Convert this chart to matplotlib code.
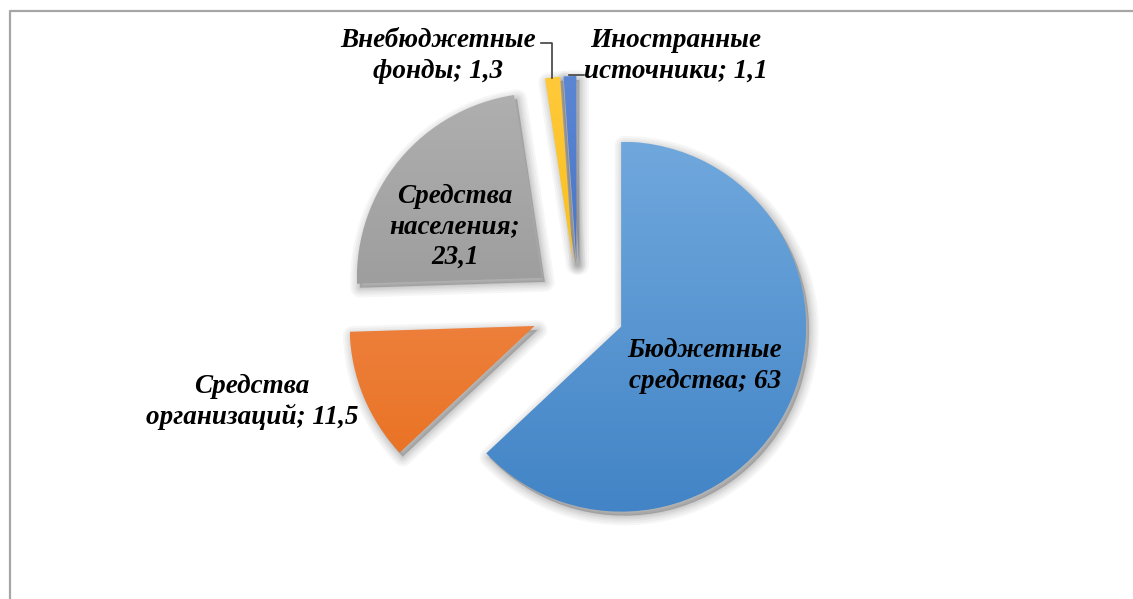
import numpy as np
import matplotlib
matplotlib.use("Agg")
import matplotlib.pyplot as plt
from matplotlib.patches import Wedge
from matplotlib.colors import LinearSegmentedColormap

# Структура источников финансирования, %
sources = ["Бюджетные\nсредства", "Средства\nорганизаций", "Средства\nнаселения",
           "Внебюджетные\nфонды", "Иностранные\nисточники"]
shares = [63, 11.5, 23.1, 1.3, 1.1]
# разделитель между названием и значением в подписи
label_sep = ["; ", "; ", ";\n", "; ", "; "]

# цвет сверху / снизу для градиента каждого сектора
top_colors = ["#70a8dd", "#f2915a", "#afafaf", "#ffc93a", "#5a86d4"]
bottom_colors = ["#4284c6", "#e86e1c", "#8e8e8e", "#f5b800", "#3b66bb"]

W, H = 1133, 599
CX, CY, R = 578, H - 308, 185
EXPLODE = 47  # в matplotlib explode задаётся в единицах данных

fig = plt.figure(figsize=(W / 100, H / 100), dpi=100)
ax = fig.add_axes([0, 0, 1, 1])

# рамка области диаграммы (видны только верх и левый край)
ax.plot([9.5, 9.5, W], [0, H - 10.5, H - 10.5], color="#a6a6a6", lw=1.6,
        solid_capstyle="butt", zorder=1)

wedges, _ = ax.pie(shares, startangle=90, counterclock=False, center=(CX, CY),
                   radius=R, explode=[EXPLODE] * len(shares), frame=True)

for i, w in enumerate(wedges):
    w.set_facecolor("none")
    w.set_edgecolor("none")
    cx, cy = w.center
    # мягкая размытая тень справа снизу
    for lw in [14, 11, 8, 5.5, 3.5, 1.5]:
        sh = Wedge((cx + 3, cy - 4), w.r, w.theta1, w.theta2,
                   facecolor="#000000", edgecolor="#000000", lw=lw,
                   alpha=0.035, zorder=2, joinstyle="round")
        ax.add_patch(sh)
    # вертикальный градиент внутри сектора
    clip = Wedge((cx, cy), w.r, w.theta1, w.theta2, facecolor="none",
                 edgecolor="none", transform=ax.transData)
    ax.add_patch(clip)
    x0, y0, x1, y1 = cx - w.r, cy - w.r, cx + w.r, cy + w.r
    cmap = LinearSegmentedColormap.from_list(f"g{i}", [bottom_colors[i], top_colors[i]])
    grad = np.linspace(0, 1, 256).reshape(-1, 1)
    im = ax.imshow(grad, cmap=cmap, extent=(x0, x1, y0, y1), origin="lower",
                   aspect="auto", zorder=3, interpolation="bilinear")
    im.set_clip_path(clip)

ax.set_xlim(0, W)
ax.set_ylim(0, H)
ax.set_aspect("equal")
ax.axis("off")

font = dict(family="Liberation Serif", weight="bold", style="italic",
            size=19.5, color="#000000", ha="center", va="center",
            linespacing=1.27, zorder=5)

label_pos = [(705, H - 366), (252, H - 402), (455, H - 227),
             (438, H - 56), (676, H - 56)]
for name, val, sep, (lx, ly) in zip(sources, shares, label_sep, label_pos):
    txt = f"{name}{sep}{val:g}".replace(".", ",")
    ax.text(lx, ly, txt, **font)

# выноски для маленьких секторов
ax.plot([541, 552, 552], [H - 43, H - 43, H - 78], color="#404040", lw=1.2, zorder=4)
ax.plot([569, 584], [H - 75, H - 75], color="#404040", lw=1.2, zorder=4)

fig.savefig("out.png", dpi=100)
